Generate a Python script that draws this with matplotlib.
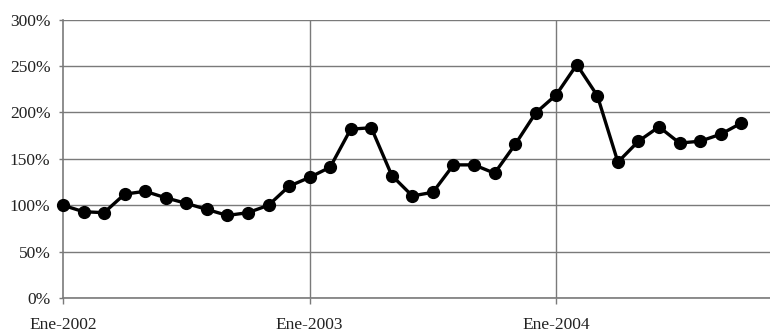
import numpy as np
import matplotlib.pyplot as plt
from matplotlib.ticker import FuncFormatter

# Serie mensual (Ene-2002 a Oct-2004), en %
valores = [100, 93, 92, 112, 115, 108, 102, 95.5, 89, 92,
           100, 120.5, 130, 141, 182, 183.5, 132, 110, 114, 143.5,
           143.5, 134.5, 165.5, 199.5, 219, 251.5, 218, 146.5, 169, 184.5,
           167, 169, 176.5, 188.5]
meses = np.arange(len(valores))
etiquetas_x = ['Ene-2002', 'Ene-2003', 'Ene-2004']
pos_x = [0, 12, 24]
ticks_y = [0, 50, 100, 150, 200, 250, 300]

plt.rcParams['font.family'] = ['Liberation Serif', 'DejaVu Serif']

fig = plt.figure(figsize=(7.7, 3.33), dpi=100)
ax = fig.add_axes([0.0818, 0.105, 0.9182, 0.836])

ax.plot(meses, valores, color='black', linewidth=2.4, marker='o',
        markersize=8.5, zorder=3, clip_on=False)

ax.set_xlim(0, 34.4)
ax.set_ylim(0, 300)
ax.set_yticks(ticks_y)
ax.yaxis.set_major_formatter(FuncFormatter(lambda v, p: f'{int(v)}%'))
ax.set_xticks(pos_x)
ax.set_xticklabels(etiquetas_x)

# cuadricula gris
ax.grid(True, axis='y', color='#7a7a7a', linewidth=1.0)
for p in pos_x[1:]:
    ax.axvline(p, color='#7a7a7a', linewidth=1.0, zorder=1)
ax.set_axisbelow(True)

for lado in ['top', 'right']:
    ax.spines[lado].set_visible(False)
for lado in ['left', 'bottom']:
    ax.spines[lado].set_color('#7a7a7a')
    ax.spines[lado].set_linewidth(1.2)

ax.tick_params(axis='y', length=3, width=1, color='#7a7a7a', pad=6,
               labelsize=12.5, labelcolor='#222222')
ax.tick_params(axis='x', length=4.5, width=1, color='#7a7a7a', pad=9,
               labelsize=12.5, labelcolor='#222222')

fig.savefig('out.png', dpi=100)
